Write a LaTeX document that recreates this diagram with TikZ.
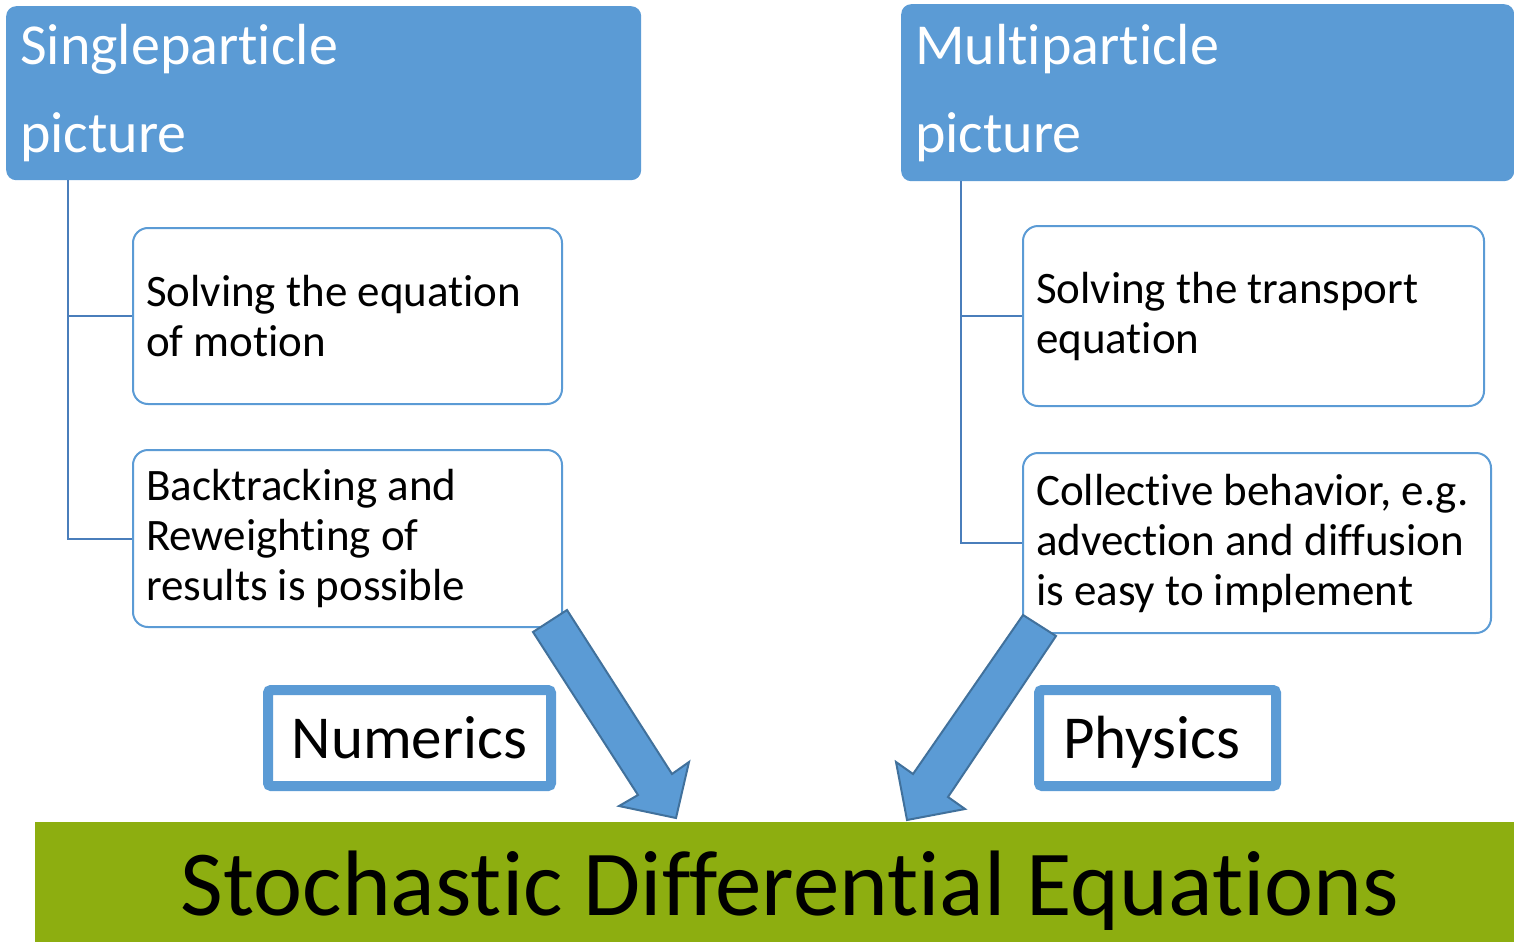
\documentclass[tikz,border=0pt]{standalone}
\usepackage{fontspec}
\setmainfont{Carlito}[Ligatures=NoCommon]
\definecolor{hdrblue}{HTML}{5B9BD5}
\definecolor{lineblue}{HTML}{4A7EBB}
\definecolor{arrowline}{HTML}{41719C}
\definecolor{sdegreen}{HTML}{8DAE10}
\begin{document}
\begin{tikzpicture}[x=1pt,y=-1pt,
 hdr/.style={fill=hdrblue, rounded corners=10pt, anchor=north west, inner sep=0pt},
 hdrtext/.style={text=white, font=\fontsize{58}{58}\selectfont, anchor=base west, inner sep=0pt},
 itembox/.style={draw=hdrblue, line width=2pt, rounded corners=15pt, fill=white, anchor=north west, align=flush left, inner xsep=13pt, inner ysep=0pt, font=\fontsize{45}{50}\selectfont},
 conn/.style={draw=lineblue, line width=2pt},
 tagbox/.style={draw=hdrblue, line width=10pt, rounded corners=3pt, fill=white, inner sep=0pt, text height=40pt, text depth=0pt, font=\fontsize{61}{61}\selectfont},
 fatarrow/.style={fill=hdrblue, draw=arrowline, line width=2pt, line join=miter}
]
\useasboundingbox (0,0) rectangle (1514,942);
% headers
\node[hdr, minimum width=635pt, minimum height=174pt] (h1) at (6,6) {};
\node[hdr, minimum width=613pt, minimum height=177pt] (h2) at (901,4) {};
\node[hdrtext] (h1a) at (20,64) {Singleparticle};
\node[hdrtext] (h1b) at (20,152) {picture};
\node[hdrtext] (h2a) at (915,64) {Multiparticle};
\node[hdrtext] (h2b) at (915,152) {picture};
% item boxes
\node[itembox, text width=403pt, minimum height=176pt] (b1) at (132,227) {Solving the equation\\of motion};
\node[itembox, text width=403pt, minimum height=177pt] (b2) at (132,449) {Backtracking and\\Reweighting of\\results is possible};
\node[itembox, text width=435pt, minimum height=180pt] (b3) at (1022,225) {Solving the transport\\equation};
\node[itembox, text width=442pt, minimum height=180pt] (b4) at (1022,452) {Collective behavior, e.g.\\advection and diffusion\\is easy to implement};
% connectors
\coordinate (t1) at ([xshift=62pt]h1.south west);
\coordinate (t2) at ([xshift=60pt]h2.south west);
\draw[conn] (t1) |- (b2.west);
\draw[conn] (t1) |- (b1.west);
\draw[conn] (t2) |- (b4.west);
\draw[conn] (t2) |- (b3.west);
% tags
\node[tagbox, minimum width=283pt, minimum height=96pt] (num) at (409.5,738) {Numerics};
\node[tagbox, minimum width=237pt, minimum height=96pt] (phy) at (1157.5,738) {Physics\kern12pt};
% bottom bar
\node[fill=sdegreen, anchor=north west, minimum width=1479pt, minimum height=120pt, inner sep=0pt] (sde) at (35,822) {};
\node[font=\fontsize{93}{93}\selectfont, anchor=base, inner sep=0pt] (sdet) at (790,915) {Stochastic Differential Equations};
% block arrows
\draw[fatarrow] (533,632) -- (567,610) -- (672,774) -- (689,762) -- (676,818) -- (619,806) -- (638,795) -- cycle;
\draw[fatarrow] (1023,615) -- (1056,636) -- (948,797) -- (965,809) -- (907,820) -- (896,762) -- (913,774) -- cycle;
\end{tikzpicture}
\end{document}
